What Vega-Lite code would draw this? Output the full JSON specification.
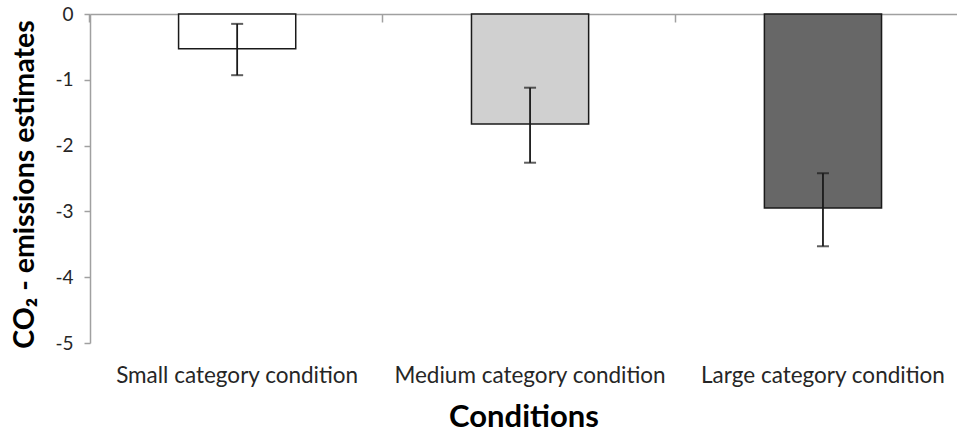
{
  "$schema": "https://vega.github.io/schema/vega-lite/v6.json",
  "width": 867,
  "height": 329,
  "autosize": "none",
  "padding": {"left": 90, "top": 14, "right": 0, "bottom": 91},
  "config": {"view": {"stroke": null}, "font": "Lato"},
  "data": {
    "values": [
      {"condition": "Small category condition", "mean": -0.53, "lo": -0.93, "hi": -0.15},
      {"condition": "Medium category condition", "mean": -1.67, "lo": -2.26, "hi": -1.12},
      {"condition": "Large category condition", "mean": -2.95, "lo": -3.53, "hi": -2.42}
    ]
  },
  "resolve": {"axis": {"x": "independent"}},
  "layer": [
    {
      "mark": {"type": "bar", "stroke": "#1a1a1a", "strokeWidth": 1.5},
      "encoding": {
        "x": {
          "field": "condition", "type": "nominal", "sort": null,
          "scale": {"paddingInner": 0.6, "paddingOuter": 0.28, "align": 0.54},
          "axis": {
            "orient": "bottom", "title": "Conditions", "labelAngle": 0,
            "domain": false, "ticks": false, "labelPadding": 21, "labelLimit": 0,
            "labelFontSize": 22.5, "labelColor": "#262626",
            "titleFontSize": 31, "titleFontWeight": "bold", "titleColor": "#000000",
            "titlePadding": 16
          }
        },
        "y": {
          "field": "mean", "type": "quantitative",
          "scale": {"domain": [-5, 0], "nice": false},
          "axis": {
            "title": "CO₂ - emissions estimates", "values": [-5, -4, -3, -2, -1, 0],
            "labelExpr": "datum.value == 0 ? '0' : '-' + abs(datum.value)",
            "grid": false, "domainColor": "#a0a0a0", "domainWidth": 1.5,
            "tickColor": "#a0a0a0", "tickWidth": 1.5, "tickSize": 6,
            "labelFontSize": 19, "labelColor": "#262626", "labelPadding": 11,
            "titleFontSize": 28.5, "titleFontWeight": "bold", "titleColor": "#000000",
            "titlePadding": 15, "titleY": 170
          }
        },
        "color": {
          "field": "condition", "type": "nominal", "legend": null,
          "scale": {
            "domain": ["Small category condition", "Medium category condition", "Large category condition"],
            "range": ["#ffffff", "#d0d0d0", "#676767"]
          }
        }
      }
    },
    {
      "mark": {"type": "rule", "color": "#1a1a1a", "strokeWidth": 1.8},
      "encoding": {
        "x": {
          "field": "condition", "type": "nominal", "sort": null,
          "axis": {
            "orient": "top", "title": null, "labels": false,
            "domainColor": "#a0a0a0", "domainWidth": 1.5,
            "ticks": true, "tickColor": "#a0a0a0", "tickWidth": 1.5,
            "tickSize": -8, "bandPosition": -0.76
          }
        },
        "y": {"field": "lo", "type": "quantitative"},
        "y2": {"field": "hi"}
      }
    },
    {
      "mark": {"type": "tick", "color": "#1a1a1a", "size": 12, "thickness": 2},
      "encoding": {
        "x": {"field": "condition", "type": "nominal", "sort": null, "axis": null},
        "y": {"field": "lo", "type": "quantitative"}
      }
    },
    {
      "mark": {"type": "tick", "color": "#1a1a1a", "size": 12, "thickness": 2},
      "encoding": {
        "x": {"field": "condition", "type": "nominal", "sort": null, "axis": null},
        "y": {"field": "hi", "type": "quantitative"}
      }
    }
  ]
}
